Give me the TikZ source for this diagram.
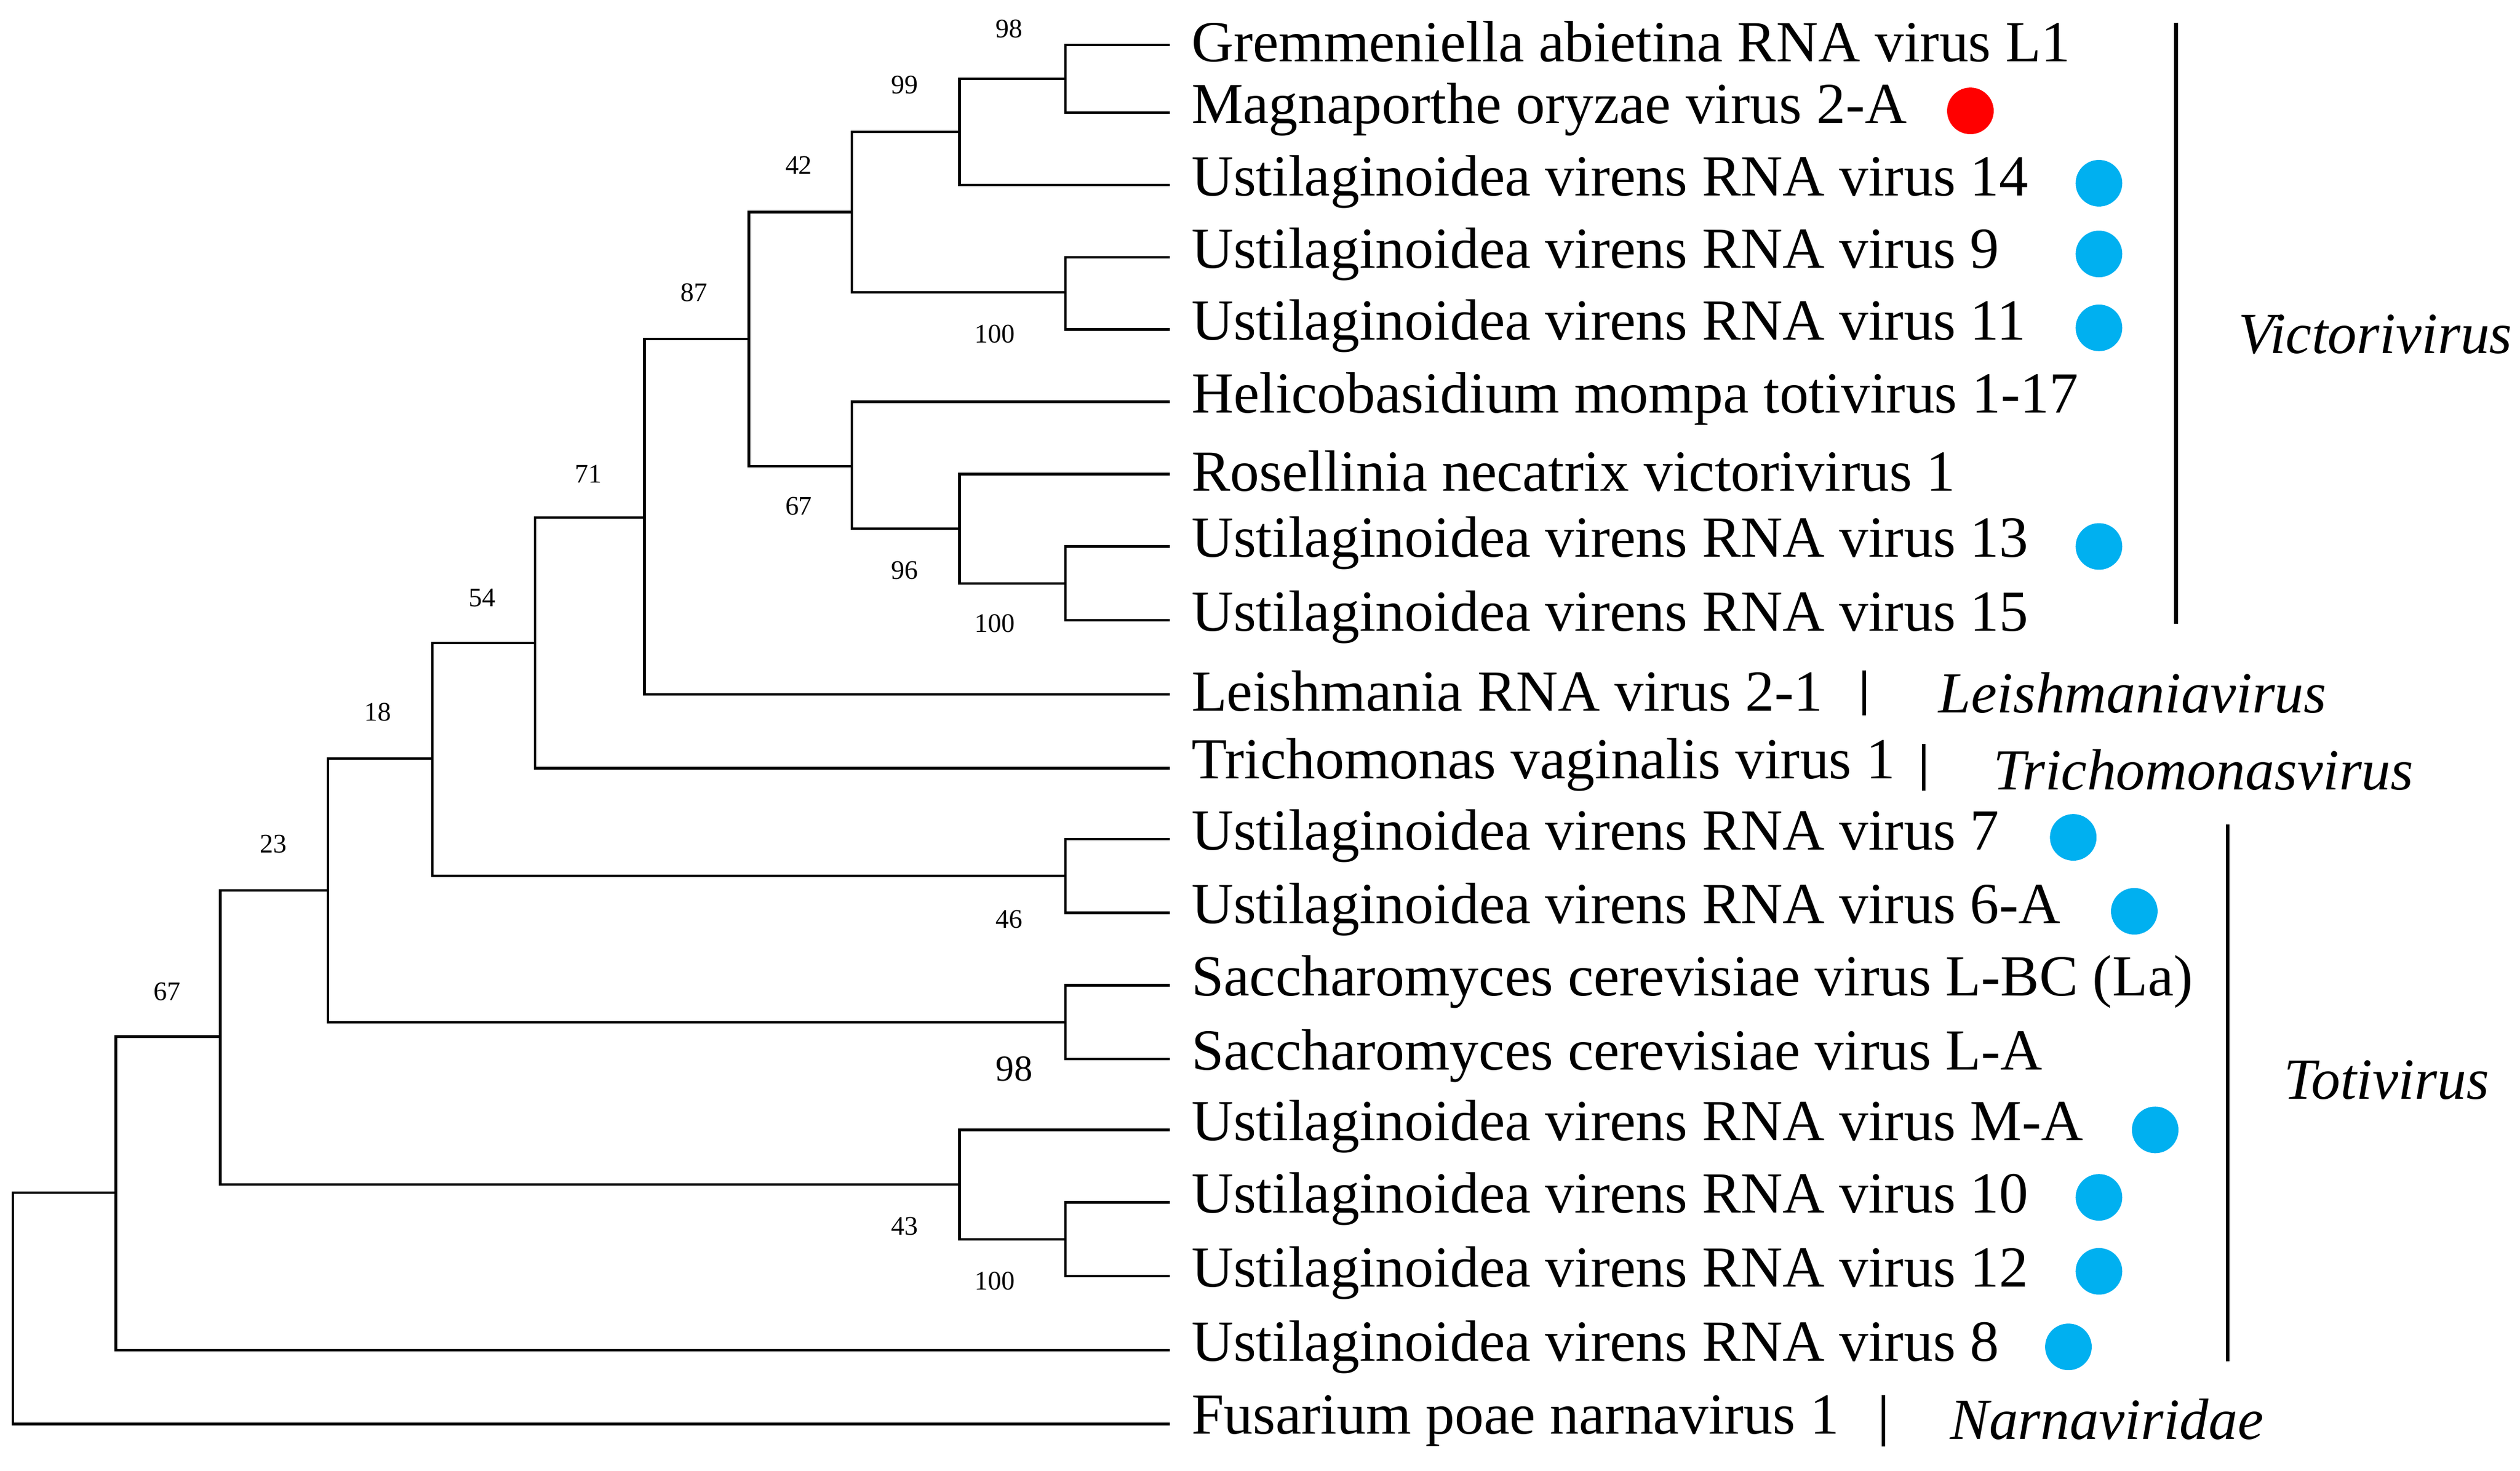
\documentclass[tikz,border=0pt]{standalone}
\usepackage{fontspec}
\setmainfont{Liberation Serif}
\begin{document}
\begin{tikzpicture}[x=0.02cm,y=-0.02cm,
  br/.style={line width=0.9pt,black},
  tip/.style={anchor=west,inner sep=0pt,font=\fontsize{20.6}{22}\selectfont},
  bs/.style={font=\fontsize{9.5}{11}\selectfont,inner sep=0pt},
  gen/.style={font=\fontsize{20.6}{22}\selectfont\itshape,inner sep=0pt},
  bar/.style={line width=1.3pt},
  bdot/.style={circle,fill={rgb,255:red,0;green,176;blue,240},minimum size=0.58cm,inner sep=0pt},
  rdot/.style={circle,fill=red,minimum size=0.58cm,inner sep=0pt}]
\useasboundingbox (0,0) rectangle (1568,915);
% tips
\foreach \n/\y/\t in {t1/28/Gremmeniella abietina RNA virus L1, t2/70/Magnaporthe oryzae virus 2-A, t3/115/Ustilaginoidea virens RNA virus 14, t4/160/Ustilaginoidea virens RNA virus 9, t5/205/Ustilaginoidea virens RNA virus 11, t6/250/Helicobasidium mompa totivirus 1-17, t7/295/Rosellinia necatrix victorivirus 1, t8/340/Ustilaginoidea virens RNA virus 13, t9/386/Ustilaginoidea virens RNA virus 15, t10/432/Leishmania RNA virus 2-1, t11/478/Trichomonas vaginalis virus 1, t12/522/Ustilaginoidea virens RNA virus 7, t13/568/Ustilaginoidea virens RNA virus 6-A, t14/613/Saccharomyces cerevisiae virus L-BC (La), t15/659/Saccharomyces cerevisiae virus L-A, t16/703/Ustilaginoidea virens RNA virus M-A, t17/748/Ustilaginoidea virens RNA virus 10, t18/794/Ustilaginoidea virens RNA virus 12, t19/840/Ustilaginoidea virens RNA virus 8, t20/886/Fusarium poae narnavirus 1}{
  \coordinate (\n) at (728,\y);
  \node[tip] (\n l) at (741,\y-2) {\t};
}
% internal nodes
\coordinate (A) at (663,49);
\coordinate (B) at (597,82);
\coordinate (C) at (663,182);
\coordinate (D) at (530,132);
\coordinate (E) at (663,363);
\coordinate (F) at (597,329);
\coordinate (G) at (530,290);
\coordinate (H) at (466,211);
\coordinate (I) at (401,322);
\coordinate (J) at (333,400);
\coordinate (K) at (663,545);
\coordinate (L) at (269,472);
\coordinate (M) at (663,636);
\coordinate (N) at (204,554);
\coordinate (O) at (663,771);
\coordinate (P) at (597,737);
\coordinate (Q) at (137,645);
\coordinate (R) at (72,742);
\coordinate (Root) at (8,814);
\foreach \p/\c in {A/t1,A/t2,B/A,B/t3,C/t4,C/t5,D/B,D/C,E/t8,E/t9,F/t7,F/E,G/t6,G/F,H/D,H/G,I/H,I/t10,J/I,J/t11,K/t12,K/t13,L/J,L/K,M/t14,M/t15,N/L,N/M,O/t17,O/t18,P/t16,P/O,Q/N,Q/P,R/Q,R/t19,Root/R,Root/t20}
  \draw[br] (\p) |- (\c);
% support values
\node[bs] (s1) at (628,18) {98};
\node[bs] (s2) at (563,53) {99};
\node[bs] (s3) at (619,208) {100};
\node[bs] (s4) at (497,103) {42};
\node[bs] (s5) at (619,388) {100};
\node[bs] (s6) at (563,355) {96};
\node[bs] (s7) at (497,315) {67};
\node[bs] (s8) at (432,182) {87};
\node[bs] (s9) at (366,295) {71};
\node[bs] (s10) at (300,372) {54};
\node[bs] (s11) at (628,572) {46};
\node[bs] (s12) at (235,443) {18};
\node[font=\fontsize{13}{15}\selectfont,inner sep=0pt] (s13) at (631,665) {98};
\node[bs] (s14) at (170,525) {23};
\node[bs] (s15) at (619,797) {100};
\node[bs] (s16) at (563,763) {43};
\node[bs] (s17) at (104,617) {67};
% dots
\node[rdot] (d1) at (1226,69) {};
\foreach \n/\x/\y in {d3/1306/114,d4/1306/158,d5/1306/204,d8/1306/340,d12/1290/521,d13/1328/567,d16/1341/703,d17/1306/745,d18/1306/791,d19/1287/838}
  \node[bdot] (\n) at (\x,\y) {};
% genus bars
\draw[bar] (1354,14) -- (1354,388);
\node[gen] (g1) at (1478,208) {Victorivirus};
\draw[bar] (1160,417) -- (1160,445);
\node[gen] (g2) at (1327,431) {Leishmaniavirus};
\draw[bar] (1197,463) -- (1197,492);
\node[gen] (g3) at (1371,479) {Trichomonasvirus};
\draw[bar] (1386,513) -- (1386,847);
\node[gen] (g4) at (1485,672) {Totivirus};
\draw[bar] (1172,868) -- (1172,900);
\node[gen] (g5) at (1311,883) {Narnaviridae};
\end{tikzpicture}
\end{document}
